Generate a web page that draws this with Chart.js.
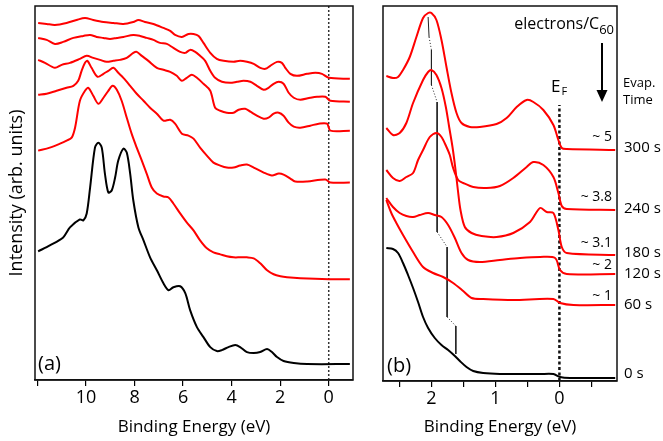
<!DOCTYPE html>
<html>
<head>
<meta charset="utf-8">
<script src="https://cdn.jsdelivr.net/npm/chart.js@4.4.0/dist/chart.umd.min.js"></script>
<style>
  html, body { margin: 0; padding: 0; background: #fff; }
  #wrap { position: relative; width: 663px; height: 441px; }
  canvas { position: absolute; top: 0; }
  #chartA { left: 0; }
  #chartB { left: 360px; }
</style>
</head>
<body>
<div id="wrap">
  <canvas id="chartA" width="360" height="441"></canvas>
  <canvas id="chartB" width="303" height="441"></canvas>
</div>
<script>
// ---- panel (a): valence band, wide range  [binding energy eV, intensity arb.]
const aPureC60 = [[11.97,129],[11.49,135],[10.94,143],[10.66,153],[10.25,161],[10.11,160],[9.97,167],[9.83,193],[9.63,233],[9.49,238],[9.35,233],[9.22,207],[9.08,188],[8.94,190],[8.80,203],[8.67,220],[8.46,232],[8.32,228],[8.18,207],[8.05,180],[7.84,153],[7.63,140],[7.36,123],[7.08,110],[6.81,97],[6.60,90],[6.40,93],[6.12,94],[5.91,87],[5.71,70],[5.43,53],[5.16,43],[4.88,33],[4.61,29],[4.40,30],[4.13,33],[3.85,35],[3.65,33],[3.37,28],[3.09,27],[2.82,28],[2.54,31],[2.34,28],[2.13,23],[1.86,19],[1.44,17],[0.89,16],[-0.87,16]];
const aDoped1 = [[11.97,230],[11.49,233],[11.07,237],[10.80,240],[10.59,243],[10.45,253],[10.25,280],[10.04,290],[9.90,293],[9.70,285],[9.49,277],[9.28,283],[9.08,290],[8.90,295],[8.73,291],[8.53,280],[8.32,263],[8.12,247],[7.91,233],[7.70,220],[7.50,207],[7.29,193],[7.08,187],[6.81,184],[6.60,183],[6.40,177],[6.12,167],[5.85,158],[5.57,150],[5.30,140],[5.02,132],[4.75,128],[4.47,126],[4.20,124],[3.92,123],[3.65,123],[3.37,123],[3.09,122],[2.82,117],[2.54,110],[2.27,106],[1.99,104],[1.72,103],[1.17,102],[0,101],[-0.87,101]];
const aDoped2 = [[11.97,286],[11.62,287],[11.21,290],[10.80,293],[10.52,295],[10.32,300],[10.18,310],[10.04,318],[9.94,320],[9.77,313],[9.52,304],[9.28,307],[9.08,310],[8.87,313],[8.67,308],[8.46,303],[8.18,295],[7.91,287],[7.63,280],[7.36,273],[7.08,267],[6.81,260],[6.53,261],[6.33,257],[6.05,247],[5.78,245],[5.57,242],[5.30,233],[5.02,225],[4.75,218],[4.47,215],[4.20,213],[3.92,213],[3.65,215],[3.37,216],[3.09,213],[2.68,208],[2.34,205],[2.06,207],[1.86,206],[1.58,202],[1.38,199],[0.89,199],[0.14,201],[-0.07,198],[-0.87,198]];
const aDoped3 = [[11.97,321],[11.69,318],[11.28,313],[11.00,316],[10.66,318],[10.25,322],[9.97,325],[9.70,323],[9.42,321],[9.15,319],[8.87,320],[8.60,321],[8.32,323],[8.05,328],[7.91,329],[7.70,325],[7.43,320],[7.08,313],[6.81,311],[6.53,309],[6.26,305],[6.05,300],[5.85,303],[5.64,306],[5.43,303],[5.16,297],[4.88,290],[4.68,273],[4.47,270],[4.20,268],[3.92,268],[3.71,271],[3.44,272],[3.23,269],[2.96,265],[2.68,262],[2.48,263],[2.27,267],[2.06,268],[1.86,265],[1.65,258],[1.44,254],[1.17,253],[0.76,255],[0.41,257],[0.07,257],[-0.07,250],[-0.87,250]];
const aDoped4 = [[11.97,343],[11.62,341],[11.28,337],[10.94,339],[10.52,343],[10.11,345],[9.83,346],[9.56,344],[9.28,343],[9.01,342],[8.73,343],[8.46,344],[8.05,346],[7.77,345],[7.50,343],[7.22,341],[6.95,338],[6.67,337],[6.40,333],[6.12,329],[5.91,328],[5.71,331],[5.50,329],[5.30,325],[5.09,320],[4.88,310],[4.68,303],[4.40,299],[4.06,298],[3.78,299],[3.51,300],[3.23,299],[2.96,295],[2.68,291],[2.48,293],[2.27,297],[2.06,299],[1.86,297],[1.65,288],[1.44,283],[1.17,281],[0.76,283],[0.48,284],[0.14,284],[-0.07,280],[-0.87,279]];
const aDoped5 = [[11.97,358],[11.62,357],[11.28,356],[10.80,358],[10.39,361],[10.04,363],[9.70,361],[9.28,359],[8.87,358],[8.46,357],[8.05,359],[7.84,361],[7.57,359],[7.22,357],[6.81,353],[6.53,350],[6.33,346],[6.05,344],[5.78,347],[5.57,347],[5.36,345],[5.16,338],[4.88,328],[4.61,322],[4.33,320],[3.92,319],[3.65,320],[3.37,319],[3.09,317],[2.82,313],[2.61,312],[2.41,315],[2.13,319],[1.93,318],[1.79,313],[1.58,307],[1.31,305],[0.89,307],[0.55,308],[0.28,307],[0,303],[-0.87,302]];

// ---- panel (b): near Fermi level
const b0s = [[2.705,133],[2.601,132],[2.522,128],[2.444,118],[2.366,106],[2.287,93],[2.209,79],[2.131,64],[2.052,53],[1.948,43],[1.843,36],[1.739,31],[1.634,25],[1.556,20],[1.452,14],[1.347,10],[1.191,8],[0.930,7],[0.616,7],[0.303,7],[0.094,7],[-0.010,4],[-0.167,3],[-0.533,3],[-0.872,3]];
const b60s = [[2.705,181],[2.627,168],[2.548,158],[2.444,146],[2.287,129],[2.131,114],[1.974,108],[1.817,104],[1.661,98],[1.504,90],[1.373,83],[1.191,82],[0.721,81],[0.094,82],[-0.010,78],[-0.219,76],[-0.872,76]];
const b120s = [[2.705,183],[2.601,174],[2.496,168],[2.392,165],[2.287,164],[2.183,166],[2.052,168],[1.948,166],[1.843,164],[1.739,156],[1.634,143],[1.530,128],[1.426,121],[1.243,119],[0.930,121],[0.616,123],[0.303,124],[0.068,123],[-0.010,111],[-0.115,107],[-0.872,107]];
const b180s = [[2.705,253],[2.601,246],[2.496,248],[2.392,258],[2.287,278],[2.131,301],[2.052,309],[2.000,311],[1.922,306],[1.843,293],[1.775,274],[1.723,254],[1.671,234],[1.629,214],[1.587,191],[1.546,171],[1.478,154],[1.373,148],[1.217,145],[0.982,144],[0.721,148],[0.460,159],[0.303,173],[0.198,169],[0.094,168],[0.016,151],[-0.037,134],[-0.115,128],[-0.872,126]];
const b240s = [[2.705,211],[2.601,203],[2.496,200],[2.392,204],[2.287,208],[2.209,221],[2.131,231],[2.026,244],[1.922,248],[1.843,244],[1.765,234],[1.713,226],[1.661,213],[1.582,201],[1.504,198],[1.347,194],[1.138,193],[0.930,195],[0.721,203],[0.512,214],[0.407,219],[0.251,216],[0.094,204],[0.016,188],[-0.037,175],[-0.115,172],[-0.872,171]];
const b300s = [[2.705,305],[2.601,303],[2.522,304],[2.444,311],[2.339,324],[2.235,344],[2.131,363],[2.052,368],[2.000,368],[1.922,361],[1.843,341],[1.765,314],[1.687,288],[1.608,268],[1.530,258],[1.399,254],[1.243,254],[0.982,257],[0.825,263],[0.668,274],[0.512,281],[0.407,279],[0.251,271],[0.094,256],[0.016,241],[-0.037,233],[-0.115,232],[-0.872,231]];
// peak position guide (solid / dotted alternating)
const bPeakGuide = [[2.052,364],[2.037,344],[2.000,331],[2.000,296],[1.911,279],[1.911,149],[1.755,134],[1.755,64],[1.619,55],[1.619,27]];

const ticksA = [12, 10, 8, 6, 4, 2, 0];
const tickLabelsA = ['', '10', '8', '6', '4', '2', '0'];
const ticksB = [2.5, 2, 1.5, 1, 0.5, 0, -0.5];
const tickLabelsB = ['', '2', '', '1', '', '0', ''];
const electronCounts = ['~ 5', '~ 3.8', '~ 3.1', '~ 2', '~ 1'];
const evapTimes = ['300 s', '240 s', '180 s', '120 s', '60 s', '0 s'];

Chart.defaults.font.family = "'Open Sans', sans-serif";
Chart.defaults.color = '#000';

const RED = '#ff0000';
const toXY = arr => arr.map(p => ({ x: p[0], y: p[1] }));

function curve(arr, color) {
    return {
        data: toXY(arr),
        borderColor: color,
        borderWidth: 2,
        pointRadius: 0,
        showLine: true,
        tension: 0.3
    };
}

function xAxis(min, max, ticks, labels) {
    return {
        type: 'linear',
        reverse: true,
        min: min,
        max: max,
        afterBuildTicks: s => { s.ticks = ticks.map(v => ({ value: v })); },
        afterFit: s => { s.height = 61; },
        ticks: {
            autoSkip: false,
            maxRotation: 0,
            padding: 1,
            font: { size: 18 },
            callback: (v, i) => labels[i]
        },
        grid: { drawOnChartArea: false, tickLength: 6, color: '#000', lineWidth: 1.2 },
        border: { display: true, color: '#111', width: 1.5 },
        title: {
            display: true,
            text: 'Binding Energy (eV)',
            font: { size: 17 },
            padding: { top: 0, bottom: 4 }
        }
    };
}

function framePlugin(tag, tagX, tagY) {
    return {
        id: 'frame',
        afterDatasetsDraw(chart) {
            const { ctx, chartArea: a } = chart;
            ctx.save();
            ctx.strokeStyle = '#111';
            ctx.lineWidth = 1.5;
            ctx.strokeRect(a.left, a.top, a.right - a.left, a.bottom - a.top);
            ctx.fillStyle = '#000';
            ctx.font = "20px 'Open Sans'";
            ctx.textBaseline = 'middle';
            ctx.fillText(tag, tagX, tagY);
            ctx.restore();
        }
    };
}

// panel (a)
new Chart(document.getElementById('chartA'), {
    type: 'scatter',
    data: {
        datasets: [
            curve(aPureC60, '#000'),
            curve(aDoped1, RED),
            curve(aDoped2, RED),
            curve(aDoped3, RED),
            curve(aDoped4, RED),
            curve(aDoped5, RED),
            {
                data: [{ x: 0, y: 0 }, { x: 0, y: 375 }],
                borderColor: '#333', borderWidth: 1.5, borderDash: [2, 2],
                pointRadius: 0, showLine: true
            }
        ]
    },
    options: {
        responsive: false,
        animation: false,
        layout: { padding: { left: 0, right: 7, top: 6, bottom: 0 } },
        plugins: { legend: { display: false }, tooltip: { enabled: false } },
        scales: {
            x: xAxis(-1.0, 12.1, ticksA, tickLabelsA),
            y: {
                min: 0, max: 375,
                afterFit: s => { s.width = 35; },
                ticks: { display: false },
                grid: { display: false },
                border: { display: false },
                title: {
                    display: true,
                    text: 'Intensity (arb. units)',
                    font: { size: 18 },
                    padding: { top: 6, bottom: 0 }
                }
            }
        }
    },
    plugins: [framePlugin('(a)', 38, 364)]
});

// panel (b) text annotations
const panelBText = {
    id: 'panelBText',
    afterDraw(chart) {
        const ctx = chart.ctx;
        const countY = [137, 197, 243, 265, 296];
        const timeY = [148, 209, 253, 274, 305, 374];
        ctx.save();
        ctx.fillStyle = '#000';
        ctx.strokeStyle = '#000';
        ctx.textBaseline = 'middle';
        ctx.font = "14px 'Open Sans'";
        ctx.textAlign = 'right';
        electronCounts.forEach((t, i) => ctx.fillText(t, 252, countY[i]));
        ctx.font = "15px 'Open Sans'";
        ctx.textAlign = 'left';
        evapTimes.forEach((t, i) => ctx.fillText(t, 264, timeY[i]));

        // electrons/C60 with subscript
        ctx.textBaseline = 'alphabetic';
        ctx.textAlign = 'right';
        ctx.font = "13px 'Open Sans'";
        const subW = ctx.measureText('60').width;
        ctx.fillText('60', 254, 34);
        ctx.font = "16px 'Open Sans'";
        ctx.fillText('electrons/C', 254 - subW, 29);

        // arrow
        ctx.lineWidth = 2;
        ctx.beginPath();
        ctx.moveTo(242, 43);
        ctx.lineTo(242, 92);
        ctx.stroke();
        ctx.beginPath();
        ctx.moveTo(236.5, 90);
        ctx.lineTo(247.5, 90);
        ctx.lineTo(242, 102);
        ctx.closePath();
        ctx.fill();

        // Evap. Time
        ctx.textAlign = 'left';
        ctx.textBaseline = 'middle';
        ctx.font = "13px 'Open Sans'";
        ctx.fillText('Evap.', 263, 83);
        ctx.fillText('Time', 263, 100);

        // E_F
        ctx.textBaseline = 'alphabetic';
        ctx.font = "17px 'Open Sans'";
        ctx.fillText('E', 191, 92);
        const eW = ctx.measureText('E').width;
        ctx.font = "11px 'Open Sans'";
        ctx.fillText('F', 191 + eW + 1, 95);
        ctx.restore();
    }
};

// panel (b)
new Chart(document.getElementById('chartB'), {
    type: 'scatter',
    data: {
        datasets: [
            curve(b0s, '#000'),
            curve(b60s, RED),
            curve(b120s, RED),
            curve(b180s, RED),
            curve(b240s, RED),
            curve(b300s, RED),
            {
                data: toXY(bPeakGuide),
                borderColor: '#222', borderWidth: 1,
                pointRadius: 0, showLine: true,
                segment: { borderDash: c => (c.p0DataIndex % 2 ? [1, 2] : undefined) }
            },
            {
                data: [{ x: 0, y: 0 }, { x: 0, y: 276 }],
                borderColor: '#111', borderWidth: 2.5, borderDash: [3, 2.5],
                pointRadius: 0, showLine: true
            }
        ]
    },
    options: {
        responsive: false,
        animation: false,
        layout: { padding: { left: 23, right: 46, top: 6, bottom: 0 } },
        plugins: { legend: { display: false }, tooltip: { enabled: false } },
        scales: {
            x: Object.assign(xAxis(-0.9, 2.757, ticksB, tickLabelsB), { afterFit: s => { s.height = 60; } }),
            y: { display: false, min: 0, max: 375 }
        }
    },
    plugins: [framePlugin('(b)', 27, 366), panelBText]
});
</script>
</body>
</html>
